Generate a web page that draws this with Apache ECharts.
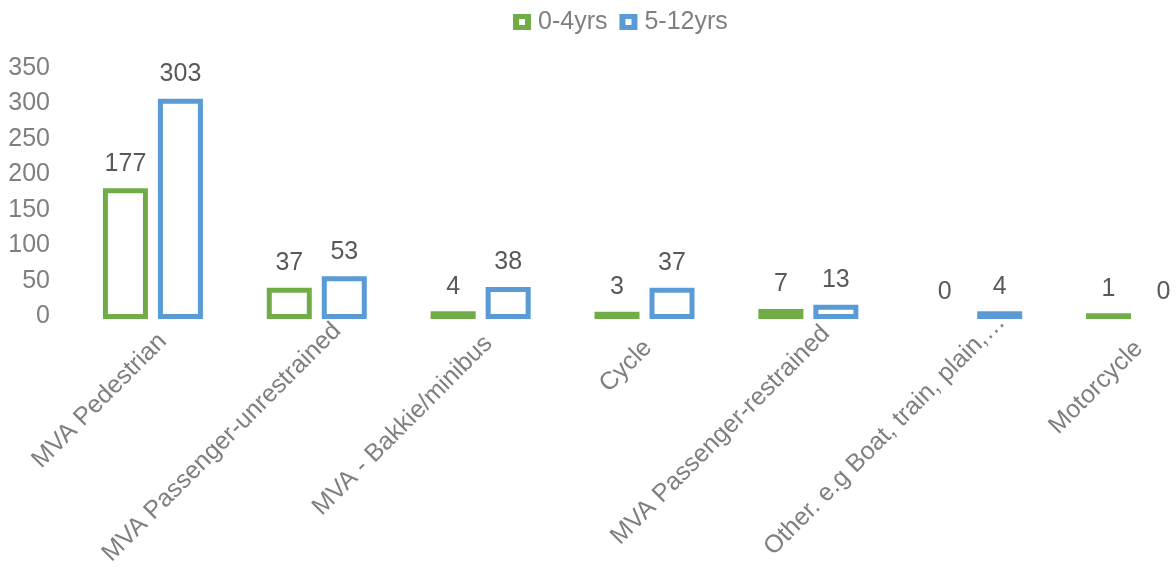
<!DOCTYPE html>
<html>
<head>
<meta charset="utf-8">
<script src="https://cdn.jsdelivr.net/npm/echarts@6/dist/echarts.min.js"></script>
<style>
html,body{margin:0;padding:0;background:#fff;}
#chart{width:1176px;height:571px;}
</style>
</head>
<body>
<div id="chart"></div>
<script>
const categories = ["MVA Pedestrian", "MVA Passenger-unrestrained", "MVA - Bakkie/minibus", "Cycle", "MVA Passenger-restrained", "Other. e.g Boat, train, plain,\u2026", "Motorcycle"];
const seriesNames = ["0-4yrs", "5-12yrs"];
const values0to4 = [177, 37, 4, 3, 7, 0, 1];
const values5to12 = [303, 53, 38, 37, 13, 4, 0];
const colors = ["#70AD47", "#5B9BD5"];

// label style: right padding (px) to nudge each rotated category label along its line
const labelPadRight = [-14, -29, -11, -5, -25, -41, -4];

const font = '"Liberation Sans", Arial, sans-serif';
const BAR_W = 40;      // inner width, stroke centred on edge
const STROKE = 5;
const OFFSET = 27.5;   // half distance between the two bar centres
const ringIcon = 'path://M0,0H18V16H0Z M6,5V11H12V5Z';

function makeSeries(idx, name, vals, color) {
  return {
    name: name,
    type: 'custom',
    itemStyle: {color: color},
    data: vals.map((v, i) => [i, v]),
    renderItem: function (params, api) {
      const cat = api.value(0);
      const val = api.value(1);
      const base = api.coord([cat, 0]);
      const top = api.coord([cat, val]);
      const cx = base[0] + (idx === 0 ? -OFFSET : OFFSET);
      return {
        type: 'rect',
        shape: {x: cx - BAR_W / 2, y: top[1], width: BAR_W, height: base[1] - top[1]},
        style: {fill: val === 0 ? 'rgba(0,0,0,0)' : '#ffffff', stroke: color, lineWidth: val === 0 ? 0 : STROKE},
        textContent: {
          style: {text: String(val), fontSize: 25, fill: '#595959', fontFamily: font}
        },
        textConfig: {position: 'top', distance: 12}
      };
    }
  };
}
const chart = echarts.init(document.getElementById('chart'));
chart.setOption({
  animation: false,
  legend: {
    left: 508, top: 4.5,
    itemWidth: 18, itemHeight: 16, itemGap: 12,
    textStyle: {fontSize: 25, color: '#7f7f7f', fontFamily: font, padding: [0, 0, 0, 2]},
    data: seriesNames.map((n, i) => ({name: n, icon: ringIcon, itemStyle: {color: colors[i], borderWidth: 0}}))
  },
  grid: {left: 71, width: 1147, top: 68, bottom: 254.5, containLabel: false, outerBoundsMode: 'none'},
  xAxis: {
    type: 'category',
    data: categories.map((c, i) => ({value: c, textStyle: {padding: [0, labelPadRight[i], 0, 0]}})),
    axisLine: {show: false},
    axisTick: {show: false},
    axisLabel: {rotate: 45, interval: 0, fontSize: 25, color: '#7f7f7f', fontFamily: font, margin: 31, verticalAlign: 'top'}
  },
  yAxis: {
    type: 'value', min: 0, max: 350, interval: 50,
    splitLine: {show: false},
    axisLine: {show: false},
    axisTick: {show: false},
    axisLabel: {fontSize: 25, color: '#7f7f7f', fontFamily: font, margin: 21}
  },
  series: [
    makeSeries(0, seriesNames[0], values0to4, colors[0]),
    makeSeries(1, seriesNames[1], values5to12, colors[1])
  ]
});
</script>
</body>
</html>
